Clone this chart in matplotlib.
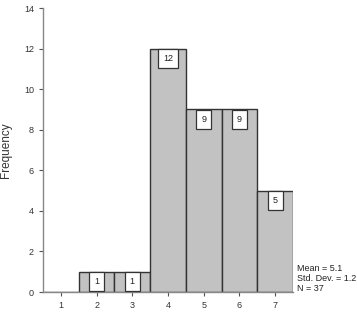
import matplotlib
matplotlib.use("Agg")
import matplotlib.pyplot as plt

categories = [1, 2, 3, 4, 5, 6, 7]
counts = [0, 1, 1, 12, 9, 9, 5]
yticks = [0, 2, 4, 6, 8, 10, 12, 14]
stats_lines = ["Mean = 5.1", "Std. Dev. = 1.2", "N = 37"]

plt.rcParams['font.family'] = ['Liberation Sans', 'DejaVu Sans']

fig = plt.figure(figsize=(3.57, 3.21), dpi=100)
ax = fig.add_axes([43/357, 29/321, 250/357, 284/321])

ax.bar(categories, counts, width=1.0, color='#c2c2c2', edgecolor='#333333', linewidth=1.0, zorder=2)

for x, c in zip(categories, counts):
    if c > 0:
        ax.annotate(str(c), xy=(x, c), xytext=(0, -3.8), textcoords='offset points',
                    ha='center', va='top', fontsize=6.5, color='#222222',
                    bbox=dict(boxstyle='square,pad=0.55', fc='white', ec='#333333', lw=0.9),
                    zorder=3)

ax.set_xlim(0.5, 7.5)
ax.set_ylim(0, 14)
ax.set_xticks(categories)
ax.set_yticks(yticks)
ax.tick_params(axis='both', labelsize=6.5, colors='#555555', labelcolor='#333333', length=3, width=0.8)
for s in ['top', 'right']:
    ax.spines[s].set_visible(False)
for s in ['left', 'bottom']:
    ax.spines[s].set_color('#888888')
    ax.spines[s].set_linewidth(1.0)

ax.set_ylabel('Frequency', fontsize=8.5, color='#333333')
ax.yaxis.set_label_coords(-0.124, 0.5)

fig.text(297/357, 1 - 278.5/321, "\n".join(stats_lines), fontsize=6.5, color='#222222',
         ha='left', va='center', linespacing=1.1)

fig.savefig('out.png', dpi=100)
